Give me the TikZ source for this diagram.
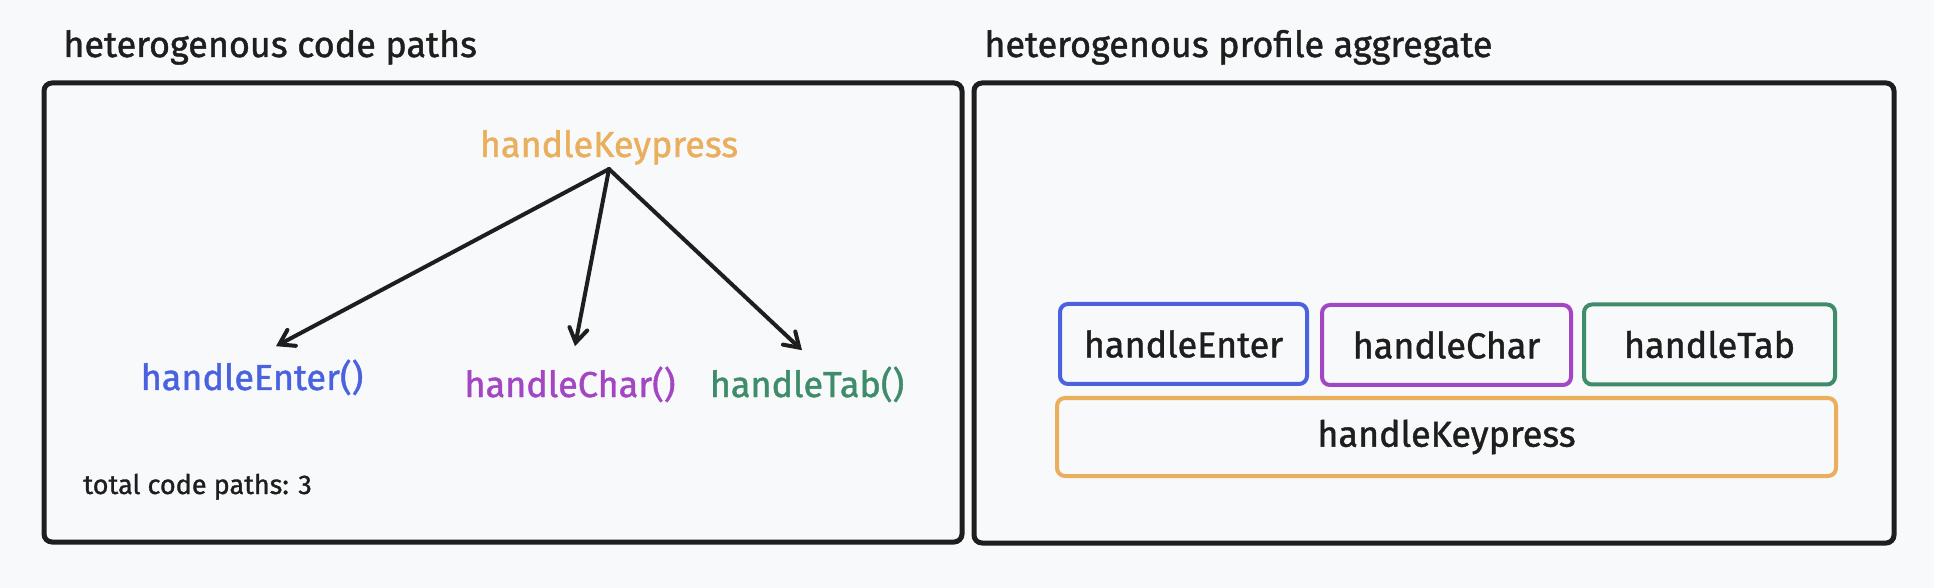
\documentclass[tikz,border=0pt]{standalone}
\usepackage{fontspec}
\setmainfont{Fira Sans}[FakeBold=1.2]
\usepackage{tikz}
\usetikzlibrary{arrows.meta,calc}

\definecolor{bgcol}{HTML}{F8F9FA}
\definecolor{inkcol}{HTML}{1E1E1E}
\definecolor{entercol}{HTML}{4A62E0}
\definecolor{charcol}{HTML}{A346C4}
\definecolor{tabcol}{HTML}{3E8C69}
\definecolor{keycol}{HTML}{E9AF5D}

\begin{document}
\begin{tikzpicture}[x=0.5pt,y=-0.5pt,
    lbl/.style={font=\fontsize{18}{20}\selectfont,inner sep=2pt},
    small/.style={font=\fontsize{13.5}{15}\selectfont,inner sep=0pt,text=inkcol},
    frame/.style={draw=inkcol,line width=2.5pt,rounded corners=4pt},
    fnbox/.style={lbl,draw,line width=2pt,rounded corners=4pt,text=inkcol,
      minimum height=40pt},
    arr/.style={draw=inkcol,line width=2pt,line cap=round,line join=round,
      -{Straight Barb[length=7pt,width=9pt,line cap=round]}}]
      \useasboundingbox (0,0) rectangle (1934,588);
      \fill[bgcol] (0,0) rectangle (1934,588);
      % titles
      \node[lbl,anchor=base west,inner sep=0pt,text=inkcol] (ttlL) at (63,57) {heterogenous code paths};
      \node[lbl,anchor=base west,inner sep=0pt,text=inkcol] (ttlR) at (984,57) {heterogenous profile aggregate};
      \draw[frame] (44,83) rectangle (962,542);
      \draw[frame] (974,83) rectangle (1894,543);
      % call tree
      \node[lbl,anchor=base,text=keycol] (kp) at (609,157) {handleKeypress};
      \node[lbl,anchor=base,text=entercol] (enter) at (252,390) {handleEnter()};
      \node[lbl,anchor=base,text=charcol] (char) at (570,397) {handleChar()};
      \node[lbl,anchor=base,text=tabcol] (tab) at (807,397) {handleTab()};
      \draw[arr] (kp.south) -- ($(enter.north)+(24,-9)$);
      \draw[arr] (kp.south) -- ($(char.north)+(5,-16)$);
      \draw[arr] (kp.south) -- ($(tab.north)+(-5,-12)$);
      \node[small,anchor=base west] (total) at (83,494) {total code paths: 3};
      % aggregate
      \node[fnbox,draw=entercol,minimum width=123.5pt] (aEnter) at (1183.5,344) {handleEnter};
      \node[fnbox,draw=charcol,minimum width=124.5pt] (aChar) at (1446.5,345) {handleChar};
      \node[fnbox,draw=tabcol,minimum width=125.5pt] (aTab) at (1709.5,344.5) {handleTab};
      \node[fnbox,draw=keycol,minimum width=389.5pt,minimum height=39pt] (aKey) at (1446.5,437) {handleKeypress};
    \end{tikzpicture}
\end{document}
